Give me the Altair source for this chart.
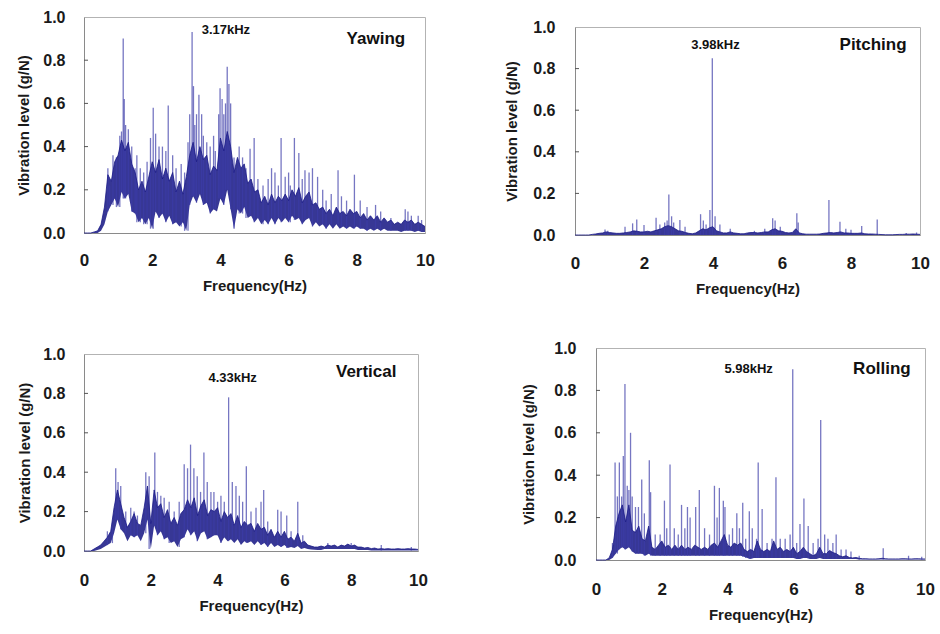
import altair as alt
import pandas as pd

# Frequency grid of the envelope arrays (Hz)
FREQ = [round(i * 0.1, 1) for i in range(101)]

# ---------------- Yawing ----------------
YAW_HI = [0, 0, 0, 0.005, 0.01, 0.04, 0.12, 0.27, 0.24, 0.33,
          0.36, 0.43, 0.38, 0.42, 0.32, 0.28, 0.2, 0.24, 0.19, 0.26,
          0.33, 0.28, 0.34, 0.25, 0.3, 0.24, 0.28, 0.19, 0.24, 0.18,
          0.26, 0.36, 0.42, 0.33, 0.4, 0.34, 0.36, 0.27, 0.31, 0.29,
          0.44, 0.38, 0.47, 0.4, 0.28, 0.35, 0.3, 0.32, 0.23, 0.25,
          0.19, 0.2, 0.14, 0.17, 0.13, 0.18, 0.14, 0.17, 0.15, 0.18,
          0.15, 0.2, 0.17, 0.21, 0.14, 0.17, 0.19, 0.13, 0.14, 0.11,
          0.12, 0.09, 0.11, 0.08, 0.12, 0.09, 0.1, 0.08, 0.11, 0.09,
          0.1, 0.07, 0.09, 0.06, 0.08, 0.06, 0.08, 0.05, 0.07, 0.05,
          0.06, 0.04, 0.05, 0.04, 0.06, 0.05, 0.06, 0.04, 0.05, 0.04, 0.03]
YAW_LO = [0, 0, 0, 0, 0, 0.01, 0.04, 0.1, 0.13, 0.16,
          0.12, 0.19, 0.16, 0.18, 0.1, 0.09, 0.05, 0.07, 0.04, 0.07,
          0.02, 0.1, 0.07, 0.09, 0.05, 0.08, 0.04, 0.05, 0.03, 0.05,
          0.01, 0.13, 0.17, 0.14, 0.18, 0.13, 0.14, 0.09, 0.11, 0.1,
          0.16, 0.13, 0.2, 0.11, 0.02, 0.11, 0.09, 0.12, 0.07, 0.08,
          0.05, 0.07, 0.04, 0.06, 0.04, 0.07, 0.04, 0.07, 0.05, 0.07,
          0.05, 0.08, 0.06, 0.07, 0.04, 0.06, 0.07, 0.03, 0.05, 0.03,
          0.04, 0.02, 0.04, 0.02, 0.04, 0.02, 0.03, 0.02, 0.03, 0.02,
          0.03, 0.02, 0.02, 0.01, 0.02, 0.01, 0.02, 0.01, 0.02, 0.01,
          0.01, 0.01, 0.01, 0.005, 0.01, 0.01, 0.01, 0.005, 0.01, 0.005, 0.005]
YAW_PEAK_F = [0.7, 0.75, 0.85, 0.95, 1.05, 1.1, 1.15, 1.18, 1.22, 1.3, 1.4, 1.5, 1.55,
              1.65, 1.75, 1.85, 1.95, 2.03, 2.1, 2.2, 2.3, 2.4, 2.47, 2.6, 2.7, 2.85,
              2.95, 3.05, 3.1, 3.17, 3.21, 3.25, 3.3, 3.37, 3.45, 3.5, 3.6, 3.7, 3.8,
              3.85, 3.95, 3.99, 4.05, 4.1, 4.15, 4.2, 4.25, 4.3, 4.4, 4.5, 4.55, 4.65,
              4.75, 4.87, 4.99, 5.1, 5.25, 5.4, 5.5, 5.6, 5.7, 5.78, 5.9, 6.0, 6.05,
              6.17, 6.3, 6.4, 6.48, 6.6, 6.7, 6.85, 7.0, 7.1, 7.25, 7.45, 7.55, 7.7,
              7.93, 8.1, 8.3, 8.55, 8.7, 9.0, 9.42, 9.5, 9.6, 9.8, 9.9]
YAW_PEAK_V = [0.3, 0.22, 0.36, 0.35, 0.45, 0.47, 0.9, 0.62, 0.5, 0.48, 0.4, 0.3, 0.36,
              0.3, 0.28, 0.33, 0.44, 0.58, 0.46, 0.4, 0.4, 0.38, 0.59, 0.36, 0.3, 0.32,
              0.28, 0.42, 0.55, 0.93, 0.68, 0.5, 0.55, 0.64, 0.55, 0.45, 0.42, 0.4, 0.45,
              0.38, 0.55, 0.67, 0.62, 0.55, 0.6, 0.77, 0.69, 0.6, 0.35, 0.3, 0.4, 0.35,
              0.3, 0.39, 0.44, 0.25, 0.22, 0.25, 0.3, 0.28, 0.22, 0.44, 0.26, 0.28, 0.22,
              0.44, 0.37, 0.25, 0.29, 0.28, 0.3, 0.26, 0.2, 0.15, 0.18, 0.29, 0.17, 0.15,
              0.27, 0.15, 0.12, 0.13, 0.1, 0.07, 0.11, 0.1, 0.08, 0.08, 0.06]

# ---------------- Pitching ----------------
PIT_HI = [0, 0, 0, 0, 0, 0.003, 0.005, 0.008, 0.01, 0.015,
          0.012, 0.01, 0.008, 0.008, 0.01, 0.012, 0.015, 0.02, 0.018, 0.015,
          0.015, 0.018, 0.015, 0.02, 0.025, 0.03, 0.04, 0.045, 0.04, 0.03,
          0.02, 0.018, 0.012, 0.008, 0.006, 0.01, 0.02, 0.03, 0.025, 0.035,
          0.04, 0.02, 0.015, 0.01, 0.01, 0.015, 0.01, 0.008, 0.006, 0.006,
          0.01, 0.012, 0.012, 0.01, 0.012, 0.015, 0.015, 0.025, 0.03, 0.02,
          0.018, 0.012, 0.01, 0.012, 0.03, 0.01, 0.006, 0.004, 0.004, 0.004,
          0.004, 0.005, 0.008, 0.01, 0.012, 0.01, 0.012, 0.015, 0.01, 0.01,
          0.008, 0.008, 0.008, 0.01, 0.006, 0.005, 0.005, 0.004, 0.003, 0.002,
          0.001, 0.001, 0.001, 0.002, 0.003, 0.003, 0.004, 0.004, 0.005, 0.004, 0.003]
PIT_LO = [0.0] * 101
PIT_PEAK_F = [0.87, 0.95, 1.45, 1.67, 1.79, 2.0, 2.35, 2.46, 2.6, 2.67, 2.72, 2.8, 2.86,
              3.04, 3.19, 3.64, 3.72, 3.8, 3.91, 3.98, 4.06, 4.2, 4.5, 5.2, 5.5, 5.73,
              5.8, 5.95, 6.43, 6.47, 7.36, 7.68, 7.85, 8.0, 8.31, 8.76, 9.6, 9.9]
PIT_PEAK_V = [0.027, 0.02, 0.04, 0.056, 0.075, 0.048, 0.083, 0.05, 0.06, 0.07, 0.195, 0.09, 0.06,
              0.072, 0.04, 0.1, 0.07, 0.05, 0.12, 0.85, 0.09, 0.05, 0.03, 0.02, 0.03, 0.08,
              0.07, 0.04, 0.104, 0.06, 0.168, 0.064, 0.03, 0.025, 0.043, 0.075, 0.01, 0.012]

# ---------------- Vertical ----------------
VER_HI = [0, 0, 0, 0.01, 0.02, 0.03, 0.05, 0.07, 0.1, 0.22,
          0.31, 0.24, 0.17, 0.12, 0.15, 0.19, 0.14, 0.13, 0.22, 0.33,
          0.14, 0.31, 0.22, 0.24, 0.17, 0.21, 0.14, 0.17, 0.13, 0.19,
          0.21, 0.26, 0.22, 0.27, 0.18, 0.23, 0.26, 0.18, 0.21, 0.2,
          0.22, 0.15, 0.2, 0.17, 0.19, 0.13, 0.18, 0.12, 0.15, 0.13,
          0.14, 0.1, 0.14, 0.11, 0.12, 0.08, 0.11, 0.07, 0.1, 0.07,
          0.1, 0.06, 0.07, 0.05, 0.09, 0.04, 0.05, 0.03, 0.025, 0.02,
          0.02, 0.025, 0.02, 0.03, 0.025, 0.03, 0.02, 0.03, 0.025, 0.035,
          0.025, 0.03, 0.02, 0.02, 0.015, 0.018, 0.012, 0.015, 0.01, 0.012,
          0.01, 0.012, 0.01, 0.01, 0.012, 0.01, 0.01, 0.012, 0.01, 0.01, 0.008]
VER_LO = [0, 0, 0, 0, 0.005, 0.01, 0.02, 0.03, 0.04, 0.09,
          0.16, 0.11, 0.09, 0.05, 0.08, 0.07, 0.08, 0.05, 0.09, 0.16,
          0.01, 0.13, 0.08, 0.1, 0.06, 0.07, 0.04, 0.05, 0.02, 0.06,
          0.07, 0.11, 0.08, 0.1, 0.05, 0.09, 0.1, 0.06, 0.07, 0.08,
          0.08, 0.04, 0.07, 0.05, 0.06, 0.04, 0.06, 0.03, 0.05, 0.04,
          0.05, 0.03, 0.05, 0.03, 0.04, 0.02, 0.04, 0.02, 0.03, 0.02,
          0.03, 0.015, 0.02, 0.015, 0.025, 0.01, 0.015, 0.01, 0.008, 0.006,
          0.005, 0.005, 0.01, 0.01, 0.01, 0.01, 0.01, 0.01, 0.01, 0.01,
          0.01, 0.01, 0.005, 0.005, 0.005, 0.005, 0.003, 0.003, 0.003, 0.003,
          0.003, 0.003, 0.003, 0.003, 0.003, 0.003, 0.003, 0.003, 0.003, 0.003, 0.003]
VER_PEAK_F = [0.7, 0.85, 0.95, 1.02, 1.1, 1.25, 1.4, 1.5, 1.6, 1.85, 1.95, 2.12, 2.2,
              2.3, 2.4, 2.55, 2.7, 2.85, 3.0, 3.1, 3.19, 3.29, 3.39, 3.49, 3.59, 3.69,
              3.8, 3.89, 4.0, 4.1, 4.2, 4.33, 4.44, 4.55, 4.65, 4.75, 4.86, 5.0, 5.15,
              5.3, 5.38, 5.5, 5.8, 5.9, 6.07, 6.2, 6.4, 6.55, 7.3, 8.0, 8.9, 9.8]
VER_PEAK_V = [0.1, 0.12, 0.42, 0.35, 0.33, 0.2, 0.22, 0.2, 0.18, 0.4, 0.38, 0.5, 0.3,
              0.28, 0.27, 0.25, 0.2, 0.25, 0.44, 0.42, 0.54, 0.42, 0.38, 0.3, 0.5, 0.35,
              0.3, 0.3, 0.25, 0.28, 0.25, 0.78, 0.35, 0.33, 0.28, 0.25, 0.43, 0.2, 0.22,
              0.25, 0.31, 0.15, 0.21, 0.2, 0.18, 0.1, 0.25, 0.08, 0.04, 0.04, 0.03, 0.02]

# ---------------- Rolling ----------------
ROL_HI = [0, 0, 0, 0, 0.01, 0.05, 0.16, 0.22, 0.26, 0.18,
          0.26, 0.14, 0.13, 0.16, 0.1, 0.09, 0.16, 0.06, 0.05, 0.07,
          0.09, 0.06, 0.07, 0.05, 0.07, 0.05, 0.07, 0.05, 0.06, 0.05,
          0.07, 0.06, 0.05, 0.06, 0.05, 0.07, 0.08, 0.06, 0.09, 0.12,
          0.07, 0.06, 0.08, 0.07, 0.08, 0.05, 0.04, 0.05, 0.04, 0.09,
          0.05, 0.04, 0.05, 0.04, 0.09, 0.05, 0.06, 0.04, 0.05, 0.04,
          0.06, 0.03, 0.04, 0.06, 0.04, 0.03, 0.02, 0.03, 0.06, 0.03,
          0.03, 0.045, 0.035, 0.03, 0.02, 0.015, 0.02, 0.012, 0.01, 0.012,
          0.008, 0.006, 0.006, 0.005, 0.005, 0.005, 0.006, 0.008, 0.006, 0.005,
          0.005, 0.005, 0.005, 0.006, 0.006, 0.005, 0.005, 0.006, 0.006, 0.005, 0.005]
ROL_LO = [0, 0, 0, 0, 0, 0.01, 0.03, 0.05, 0.06, 0.05,
          0.06, 0.04, 0.03, 0.03, 0.03, 0.02, 0.03, 0.02, 0.02, 0.02,
          0.02, 0.02, 0.02, 0.02, 0.02, 0.02, 0.02, 0.02, 0.02, 0.02,
          0.02, 0.02, 0.02, 0.02, 0.02, 0.02, 0.02, 0.02, 0.02, 0.02,
          0.02, 0.02, 0.02, 0.02, 0.02, 0.015, 0.01, 0.005, 0.01, 0.01,
          0.01, 0.01, 0.01, 0.01, 0.01, 0.01, 0.01, 0.01, 0.01, 0.01,
          0.01, 0.005, 0.005, 0.01, 0.01, 0.005, 0.005, 0.005, 0.01, 0.005,
          0.005, 0.005, 0.005, 0.005, 0.005, 0.005, 0.005, 0.005, 0.005, 0.005,
          0.002, 0.002, 0.002, 0.002, 0.002, 0.002, 0.002, 0.002, 0.002, 0.002,
          0.002, 0.002, 0.002, 0.002, 0.002, 0.002, 0.002, 0.002, 0.002, 0.002, 0.002]
ROL_PEAK_F = [0.5, 0.58, 0.65, 0.71, 0.78, 0.83, 0.88, 0.95, 1.0, 1.05, 1.1, 1.2, 1.29,
              1.39, 1.47, 1.62, 1.66, 1.8, 1.95, 2.08, 2.15, 2.25, 2.38, 2.5, 2.6, 2.7,
              2.78, 2.86, 3.03, 3.14, 3.3, 3.45, 3.6, 3.68, 3.75, 3.87, 3.92, 4.05, 4.15,
              4.28, 4.36, 4.46, 4.55, 4.66, 4.75, 4.88, 4.93, 5.05, 5.2, 5.35, 5.47, 5.6,
              5.75, 5.9, 5.98, 6.1, 6.2, 6.32, 6.45, 6.6, 6.75, 6.83, 6.95, 7.05, 7.2,
              7.3, 7.45, 7.6, 7.75, 8.0, 8.73, 9.5, 9.9]
ROL_PEAK_V = [0.08, 0.46, 0.3, 0.46, 0.3, 0.49, 0.83, 0.35, 0.33, 0.6, 0.3, 0.25, 0.25,
              0.38, 0.22, 0.47, 0.32, 0.12, 0.12, 0.28, 0.15, 0.45, 0.15, 0.12, 0.26, 0.15,
              0.25, 0.2, 0.25, 0.33, 0.15, 0.12, 0.35, 0.2, 0.34, 0.28, 0.25, 0.12, 0.15,
              0.22, 0.15, 0.27, 0.1, 0.23, 0.15, 0.1, 0.46, 0.24, 0.08, 0.1, 0.39, 0.1,
              0.1, 0.12, 0.9, 0.08, 0.17, 0.29, 0.16, 0.08, 0.1, 0.66, 0.12, 0.1, 0.08,
              0.12, 0.05, 0.05, 0.04, 0.02, 0.055, 0.02, 0.015]

NAVY = "#1b1b86"
SPIKE = "#3c3ca8"
FONT = "Liberation Sans"
Y_TICKS = [0.2, 0.4, 0.6, 0.8]


def panel(hi, lo, pf, pv, name, peak_text, name_pos, peak_pos,
          width, height, ypad, xpad):
    x = alt.X("f:Q", scale=alt.Scale(domain=[0, 10], nice=False),
              axis=alt.Axis(values=[0, 2, 4, 6, 8, 10], format="d", tickCount=20,
                            title="Frequency(Hz)", labelFontSize=17, titleFontSize=15,
                            labelPadding=xpad[0], titlePadding=xpad[1],
                            labelOverlap=False, labelFlush=False))
    y = alt.Y("v:Q", scale=alt.Scale(domain=[0, 1]),
              axis=alt.Axis(values=[0, 0.2, 0.4, 0.6, 0.8, 1.0], format=".1f",
                            tickCount=20, title="Vibration level (g/N)",
                            labelFontSize=16, titleFontSize=15,
                            labelPadding=ypad[0], titlePadding=ypad[1],
                            labelOverlap=False))

    # each spike rises from the lower edge of the dense band beneath it
    base = [lo[int(round(f * 10))] for f in pf]
    core = pd.DataFrame({"f": FREQ, "v": hi, "v2": lo})
    peaks = pd.DataFrame({"f": pf, "v": pv, "v2": base})
    ticks = pd.DataFrame({"v": Y_TICKS})

    band = alt.Chart(core).mark_area(color=NAVY, opacity=0.88).encode(
        x=x, y=y, y2="v2")
    edge = alt.Chart(core).mark_line(color=NAVY, strokeWidth=0.8).encode(x=x, y=y)
    spikes = alt.Chart(peaks).mark_rule(color=SPIKE, strokeWidth=1.3, opacity=0.7).encode(
        x=x, y=y, y2="v2")
    inner_ticks = alt.Chart(ticks).mark_rule(color="#555555").encode(
        x=alt.value(0), x2=alt.value(4), y=y)
    name_txt = alt.Chart().mark_text(
        text=name, font=FONT, fontSize=17, fontWeight="bold", color="#111111"
    ).encode(x=alt.datum(name_pos[0]), y=alt.datum(name_pos[1]))
    peak_txt = alt.Chart().mark_text(
        text=peak_text, font=FONT, fontSize=13, fontWeight="bold", color="#111111"
    ).encode(x=alt.datum(peak_pos[0]), y=alt.datum(peak_pos[1]))

    return alt.layer(band, spikes, edge, inner_ticks, name_txt, peak_txt).properties(
        width=width, height=height)


def spacer():
    # an empty, invisible 1-px view used to drop a panel a few pixels lower
    return alt.Chart(pd.DataFrame({"a": [0]})).mark_point(opacity=0).properties(
        width=1, height=1, view=alt.ViewBackground(stroke="transparent"))


yaw = panel(YAW_HI, YAW_LO, YAW_PEAK_F, YAW_PEAK_V, "Yawing", "3.17kHz",
            (8.56, 0.9), (4.16, 0.94), 341, 216, (19, 11), (19, 10))
pit = panel(PIT_HI, PIT_LO, PIT_PEAK_F, PIT_PEAK_V, "Pitching", "3.98kHz",
            (8.64, 0.915), (4.07, 0.915), 345, 208, (20, 13), (20, 10))
ver = panel(VER_HI, VER_LO, VER_PEAK_F, VER_PEAK_V, "Vertical", "4.33kHz",
            (8.45, 0.91), (4.45, 0.88), 334, 197, (19, 10), (21, 10))
rol = panel(ROL_HI, ROL_LO, ROL_PEAK_F, ROL_PEAK_V, "Rolling", "5.98kHz",
            (8.69, 0.9), (4.64, 0.9), 329, 212, (20, 17), (21, 10))

top_row = alt.hconcat(yaw, alt.vconcat(spacer(), pit, spacing=-3), spacing=69)
bottom_row = alt.hconcat(alt.vconcat(spacer(), ver, spacing=-7), rol, spacing=93)

chart = alt.vconcat(top_row, bottom_row, spacing=42).properties(
    padding={"left": 16, "top": 8, "right": 5, "bottom": 5}
).configure_view(
    stroke="#b3b3b3", strokeWidth=1
).configure_axis(
    labelFont=FONT, titleFont=FONT, labelFontWeight="bold", titleFontWeight="bold",
    labelColor="#1a1a1a", titleColor="#1a1a1a", domainColor="#8a8a8a",
    grid=False, ticks=False
).configure_title(font=FONT)

chart.save("out.html", embed_options={"renderer": "svg", "actions": False})
